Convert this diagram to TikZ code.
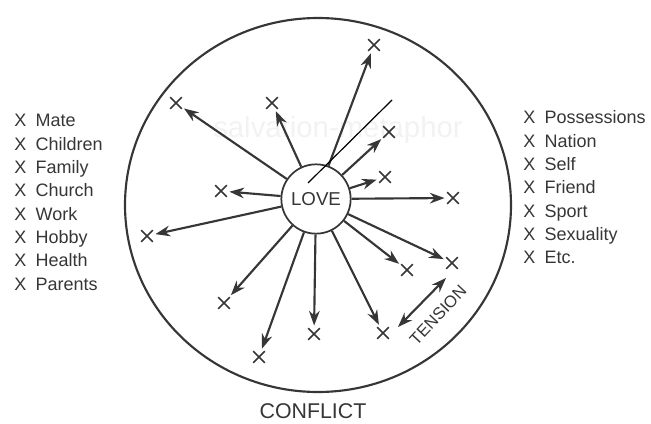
\documentclass[tikz,border=0pt]{standalone}
\usepackage{fontspec}
\setmainfont{Liberation Sans}
\usetikzlibrary{arrows.meta,shapes.misc}
\definecolor{ink}{HTML}{363636}

\begin{document}
\begin{tikzpicture}[x=0.75pt, y=-0.75pt, ink,
  xmark/.style={draw, cross out, minimum size=7.5pt, inner sep=0pt, line width=1.2pt},
  arr/.style={-{Stealth[length=11pt, width=8pt]}, line width=1.6pt, shorten >=2pt},
  item/.style={anchor=base west, inner sep=0pt, font=\fontsize{13.5}{16}\selectfont}]
  \useasboundingbox (0,0) rectangle (651,424);
  \node[text=black!5, font=\fontsize{22}{22}\selectfont] (wm) at (338,130) {salvation-metaphor};
  \draw[line width=1.6pt] (318,205) ellipse [x radius=193, y radius=187];
  \node[draw, circle, line width=1.3pt, minimum size=52pt, inner sep=0pt, font=\fontsize{14}{14}\selectfont] (love) at (316,199) {LOVE};
  % the things loved
  \node[xmark] (m1) at (374,45) {};
  \node[xmark] (m2) at (176,103) {};
  \node[xmark] (m3) at (272,103) {};
  \node[xmark] (m4) at (389,132) {};
  \node[xmark] (m5) at (385,177) {};
  \node[xmark] (m6) at (453,198) {};
  \node[xmark] (m7) at (221,191) {};
  \node[xmark] (m8) at (147,236) {};
  \node[xmark] (m9) at (224,303) {};
  \node[xmark] (m10) at (259,357) {};
  \node[xmark] (m11) at (314,334) {};
  \node[xmark] (m12) at (383,333) {};
  \node[xmark] (m13) at (407,270) {};
  \node[xmark] (m14) at (452,263) {};
  \draw[arr] (love) -- (m1); \draw[arr] (love) -- (m2);
  \draw[arr] (love) -- (m3); \draw[arr] (love) -- (m4);
  \draw[arr] (love) -- (m5); \draw[arr] (love) -- (m6);
  \draw[arr] (love) -- (m7); \draw[arr] (love) -- (m8);
  \draw[arr] (love) -- (m9); \draw[arr] (love) -- (m10);
  \draw[arr] (love) -- (m11); \draw[arr] (love) -- (m12);
  \draw[arr] (love) -- (m13); \draw[arr] (love) -- (m14);
  % tension between two of them
  \coordinate (t1) at (446,278);
  \coordinate (t2) at (398,327);
  \draw[arr, {Stealth[length=11pt, width=8pt]}-{Stealth[length=11pt, width=8pt]}, shorten >=0pt] (t1) -- (t2);
  \node[rotate=47, inner sep=1pt, font=\fontsize{12.5}{12.5}\selectfont] (ten) at (438,315) {TENSION};
  \node[font=\fontsize{16}{16}\selectfont] (con) at (313,411) {CONFLICT};
  % overdrawn stroke
  \coordinate (s1) at (308,183);
  \coordinate (s2) at (392,100);
  \draw[black, line width=0.9pt] (s1) -- (s2);
  % lists
  \node[item] (l1) at (14,127) {X\hspace{7pt}Mate};
  \node[item] (l2) at (14,150.3) {X\hspace{7pt}Children};
  \node[item] (l3) at (14,173.6) {X\hspace{7pt}Family};
  \node[item] (l4) at (14,197) {X\hspace{7pt}Church};
  \node[item] (l5) at (14,220.3) {X\hspace{7pt}Work};
  \node[item] (l6) at (14,243.6) {X\hspace{7pt}Hobby};
  \node[item] (l7) at (14,267) {X\hspace{7pt}Health};
  \node[item] (l8) at (14,290.3) {X\hspace{7pt}Parents};
  \node[item] (r1) at (523,124) {X\hspace{7pt}Possessions};
  \node[item] (r2) at (523,147.3) {X\hspace{7pt}Nation};
  \node[item] (r3) at (523,170.6) {X\hspace{7pt}Self};
  \node[item] (r4) at (523,194) {X\hspace{7pt}Friend};
  \node[item] (r5) at (523,217.3) {X\hspace{7pt}Sport};
  \node[item] (r6) at (523,240.6) {X\hspace{7pt}Sexuality};
  \node[item] (r7) at (523,264) {X\hspace{7pt}Etc.};
\end{tikzpicture}
\end{document}
